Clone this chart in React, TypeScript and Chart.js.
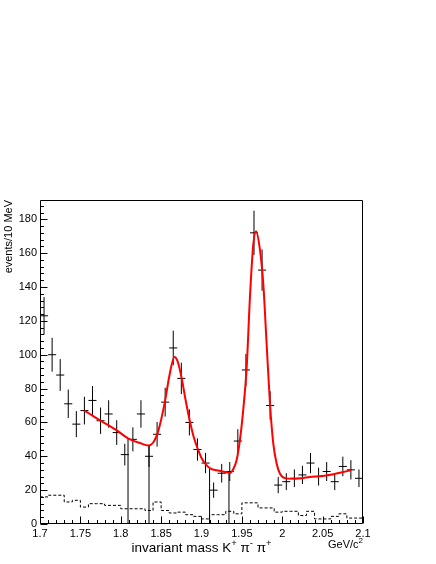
import React, { useEffect, useRef } from 'react';
import { Chart, registerables } from 'chart.js';

Chart.register(...registerables);

// ---- data ----
const binCenters = [
  1.705, 1.715, 1.725, 1.735, 1.745, 1.755, 1.765, 1.775, 1.785, 1.795,
  1.805, 1.815, 1.825, 1.835, 1.845, 1.855, 1.865, 1.875, 1.885, 1.895,
  1.905, 1.915, 1.925, 1.935, 1.945, 1.955, 1.965, 1.975, 1.985, 1.995,
  2.005, 2.015, 2.025, 2.035, 2.045, 2.055, 2.065, 2.075, 2.085, 2.095,
];
const counts = [
  123, 100, 88, 71, 59, 67, 73, 61, 65, 54,
  41, 50, 65, 40, 53, 72, 104, 86, 60, 44,
  36, 20, 30, 31, 49, 91, 172, 150, 70, 23,
  25, 27, 29, 36, 28, 31, 25, 34, 32, 27,
];
const countErrors = [
  11.1, 10.0, 9.4, 8.4, 7.7, 8.2, 8.5, 7.8, 8.1, 7.3,
  6.4, 7.1, 8.1, 6.3, 7.3, 8.5, 10.2, 9.3, 7.7, 6.6,
  6.0, 4.5, 5.5, 5.6, 7.0, 9.5, 13.1, 12.2, 8.4, 4.8,
  5.0, 5.2, 5.4, 6.0, 5.3, 5.6, 5.0, 5.8, 5.7, 5.2,
];
const binHalfWidth = 0.005;

const bgEdges = [
  1.70, 1.71, 1.72, 1.73, 1.74, 1.75, 1.76, 1.77, 1.78, 1.79,
  1.80, 1.81, 1.82, 1.83, 1.84, 1.85, 1.86, 1.87, 1.88, 1.89,
  1.90, 1.91, 1.92, 1.93, 1.94, 1.95, 1.96, 1.97, 1.98, 1.99,
  2.00, 2.01, 2.02, 2.03, 2.04, 2.05, 2.06, 2.07, 2.08, 2.09, 2.10,
];
const bgValues = [
  16, 17, 17, 13, 14, 10, 12, 12, 11, 11,
  9, 9, 9, 8, 13, 8, 6.5, 7, 5.5, 4.5,
  3, 5.5, 5.5, 7.5, 6, 12.5, 12.5, 9.5, 9.5, 7,
  7.5, 7.5, 5, 7.5, 3, 3, 4.5, 6, 3.5, 3.5,
];

const fitX = [
  1.755, 1.765, 1.775, 1.785, 1.795, 1.809, 1.825, 1.834, 1.840, 1.8465,
  1.855, 1.860, 1.8665, 1.8705, 1.8755, 1.880, 1.885, 1.890, 1.8953, 1.900,
  1.9064, 1.912, 1.9188, 1.9291, 1.9353, 1.9394, 1.9436, 1.9477, 1.9518, 1.956,
  1.960, 1.9641, 1.9675, 1.9724, 1.9765, 1.9807, 1.9848, 1.9889, 1.9931, 1.9972,
  2.0034, 2.0137, 2.0344, 2.055, 2.0715, 2.0848,
];
const fitY = [
  67, 64, 61, 58.3, 55.3, 50.6, 47.6, 46.4, 48, 55,
  73, 87, 98.7, 96, 86, 74, 62, 52, 44.5, 39,
  34.6, 32.5, 31.7, 30.7, 30.2, 32.5, 38, 50, 68, 93,
  134, 165, 173, 162, 142, 106, 71, 47.5, 35.6, 29.7,
  27.1, 26.7, 27.7, 28.7, 30.3, 31.7,
];

const markerX = [1.809, 1.835, 1.910, 1.934];
const markerTop = [50.6, 46.4, 32.7, 30.5];

const xMajorTicks = [1.7, 1.75, 1.8, 1.85, 1.9, 1.95, 2.0, 2.05, 2.1];
const xTickLabels = ['1.7', '1.75', '1.8', '1.85', '1.9', '1.95', '2', '2.05', '2.1'];
const yMajorTicks = [0, 20, 40, 60, 80, 100, 120, 140, 160, 180];
const yTickLabels = ['0', '20', '40', '60', '80', '100', '120', '140', '160', '180'];
const xMinorStep = 0.01;
const yMinorStep = 4;

const yTitle = 'events/10 MeV';
const unitTitle = 'GeV/c';

const FONT = '"Liberation Sans", Arial, Helvetica, sans-serif';

const rootStyle = {
  id: 'rootStyle',
  beforeDraw(chart: any) {
    const { ctx, width, height } = chart;
    ctx.save();
    ctx.fillStyle = '#fff';
    ctx.fillRect(0, 0, width, height);
    ctx.restore();
  },
  afterDraw(chart: any) {
    const { ctx, chartArea: a, scales } = chart;
    const xs = scales.x;
    const ys = scales.y;
    const L = Math.round(a.left) + 0.5;
    const R = Math.round(a.right) - 0.5;
    const T = Math.round(a.top) + 0.5;
    const B = Math.round(a.bottom) - 0.5;
    ctx.save();
    ctx.strokeStyle = '#000';
    ctx.lineWidth = 1;
    ctx.beginPath();
    ctx.rect(L, T, R - L, B - T);
    ctx.stroke();

    // x ticks (inside)
    ctx.beginPath();
    const nx = Math.round((xs.max - xs.min) / xMinorStep);
    for (let i = 0; i <= nx; i++) {
      const v = xs.min + i * xMinorStep;
      const px = Math.round(xs.getPixelForValue(v)) + 0.5;
      const major = i % 5 === 0;
      const len = major ? 7 : 3.5;
      ctx.moveTo(px, B);
      ctx.lineTo(px, B - len);
    }
    // y ticks (inside)
    for (let v = 0; v <= ys.max; v += yMinorStep) {
      const py = Math.round(ys.getPixelForValue(v)) + 0.5;
      const major = v % 20 === 0;
      const len = major ? 7 : 3.5;
      ctx.moveTo(L, py);
      ctx.lineTo(L + len, py);
    }
    ctx.stroke();

    ctx.fillStyle = '#000';
    // x title with superscripts
    const big = 13.5;
    const small = 9.5;
    const parts: [string, boolean][] = [
      ['invariant mass K', false], ['+', true], [' \u03c0', false], ['-', true], [' \u03c0', false], ['+', true],
    ];
    let total = 0;
    for (const [t, sup] of parts) {
      ctx.font = `${sup ? small : big}px ${FONT}`;
      total += ctx.measureText(t).width;
    }
    let cx = (a.left + a.right) / 2 - total / 2;
    const base = 552;
    ctx.textBaseline = 'alphabetic';
    ctx.textAlign = 'left';
    for (const [t, sup] of parts) {
      ctx.font = `${sup ? small : big}px ${FONT}`;
      ctx.fillText(t, cx, sup ? base - 6 : base);
      cx += ctx.measureText(t).width;
    }

    // unit title
    ctx.font = `8px ${FONT}`;
    const w2 = ctx.measureText('2').width;
    ctx.font = `11px ${FONT}`;
    const uw = ctx.measureText(unitTitle).width;
    const ux = a.right - w2 - uw;
    ctx.fillText(unitTitle, ux, 548);
    ctx.font = `8px ${FONT}`;
    ctx.fillText('2', ux + uw, 543);

    // y title
    ctx.save();
    ctx.translate(12, a.top);
    ctx.rotate(-Math.PI / 2);
    ctx.font = `11px ${FONT}`;
    ctx.textAlign = 'right';
    ctx.fillText(yTitle, 0, 0);
    ctx.restore();

    ctx.restore();
  },
};

export default function App() {
  const ref = useRef<HTMLCanvasElement | null>(null);
  useEffect(() => {
    if (!ref.current) return;

    const crossData: any[] = [];
    binCenters.forEach((c, i) => {
      const n = counts[i];
      const e = countErrors[i];
      crossData.push({ x: c - binHalfWidth, y: n }, { x: c + binHalfWidth, y: n }, { x: c, y: null });
      crossData.push({ x: c, y: n - e }, { x: c, y: n + e }, { x: c, y: null });
    });

    const bgData = bgEdges.map((x, i) => ({ x, y: bgValues[Math.min(i, bgValues.length - 1)] }));
    const fitData = fitX.map((x, i) => ({ x, y: fitY[i] }));
    const markerData: any[] = [];
    markerX.forEach((x, i) => {
      markerData.push({ x, y: 0 }, { x, y: markerTop[i] }, { x, y: null });
    });

    const chart = new Chart(ref.current, {
      type: 'line',
      data: {
        datasets: [
          {
            label: 'fit',
            data: fitData,
            borderColor: '#ff0000',
            borderWidth: 2,
            pointRadius: 0,
            cubicInterpolationMode: 'monotone',
            fill: false,
            order: 0,
          },
          {
            label: 'data',
            data: crossData,
            borderColor: '#000',
            borderWidth: 1,
            pointRadius: 0,
            tension: 0,
            spanGaps: false,
            fill: false,
            order: 1,
          },
          {
            label: 'markers',
            data: markerData,
            borderColor: '#000',
            borderWidth: 1,
            pointRadius: 0,
            tension: 0,
            spanGaps: false,
            fill: false,
            order: 2,
          },
          {
            label: 'background',
            data: bgData,
            borderColor: '#000',
            borderWidth: 1,
            borderDash: [3, 2],
            pointRadius: 0,
            stepped: 'before',
            fill: false,
            order: 3,
          },
        ] as any,
      },
      options: {
        responsive: false,
        maintainAspectRatio: false,
        devicePixelRatio: 1,
        animation: false,
        layout: { padding: { left: 0, right: 73, top: 200, bottom: 0 } },
        plugins: {
          legend: { display: false },
          tooltip: { enabled: false },
          title: { display: false },
        },
        scales: {
          x: {
            type: 'linear',
            min: 1.7,
            max: 2.1,
            grid: { display: false, drawTicks: false },
            border: { display: false },
            afterBuildTicks: (s: any) => {
              s.ticks = xMajorTicks.map((v) => ({ value: v }));
            },
            afterFit: (s: any) => {
              s.height = 40;
            },
            ticks: {
              autoSkip: false,
              maxRotation: 0,
              padding: 3,
              color: '#000',
              font: { family: FONT, size: 11 },
              callback: (_v: any, i: number) => xTickLabels[i],
            },
          },
          y: {
            type: 'linear',
            min: 0,
            max: 191.4,
            grid: { display: false, drawTicks: false },
            border: { display: false },
            afterBuildTicks: (s: any) => {
              s.ticks = yMajorTicks.map((v) => ({ value: v }));
            },
            afterFit: (s: any) => {
              s.width = 40;
            },
            ticks: {
              autoSkip: false,
              padding: 3,
              color: '#000',
              font: { family: FONT, size: 11 },
              callback: (_v: any, i: number) => yTickLabels[i],
            },
          },
        },
      },
      plugins: [rootStyle],
    });
    return () => chart.destroy();
  }, []);

  return (
    <div style={{ position: 'fixed', left: 0, top: 0, width: 436, height: 564, background: '#fff' }}>
      <canvas ref={ref} width={436} height={564} style={{ width: 436, height: 564, display: 'block' }} />
    </div>
  );
}
